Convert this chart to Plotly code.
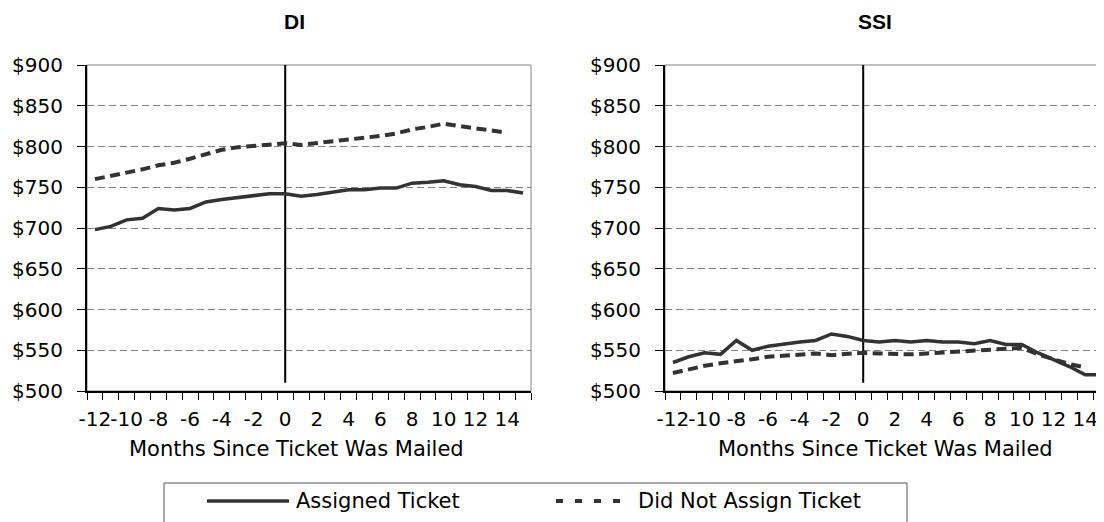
import plotly.graph_objects as go

# ---------------- data ----------------
months = list(range(-12, 16))          # -12 .. 15
months_not = list(range(-12, 15))      # -12 .. 14

di_assigned = [698, 702, 710, 712, 724, 722, 724, 732, 735, 737,
               740, 742, 742, 739, 741, 744, 747, 747, 749, 749,
               755, 756, 758, 753, 751, 746, 746, 743]
di_not_assigned = [760, 764, 767, 772, 777, 780, 785, 791, 796, 799,
                   801, 803, 804, 802, 804, 807, 809, 810, 813, 816,
                   821, 824, 828, 825, 822, 820, 817]
ssi_assigned = [535, 542, 547, 545, 562, 550, 555, 558, 560, 562,
                570, 567, 562, 560, 562, 560, 562, 560, 560, 558,
                562, 557, 557, 547, 539, 530, 520, 520]
ssi_not_assigned = [522, 527, 531, 534, 536, 539, 542, 543, 545, 546,
                    544, 545, 547, 546, 545, 545, 546, 547, 548, 549,
                    550, 552, 553, 545, 539, 533, 529]

mailed_line_x = [0, 0]
mailed_line_y = [510, 900]

x_tick_vals = list(range(-12, 15, 2))
x_tick_text = [str(v) for v in x_tick_vals]
y_tick_vals = list(range(500, 901, 50))
y_tick_text = ["$%d" % v for v in y_tick_vals]

panel_titles = ["DI", "SSI"]
x_title = "Months Since Ticket Was Mailed"
series_names = ["Assigned Ticket", "Did Not Assign Ticket"]

# ---------------- layout helpers ----------------
# The page body has an 8px margin, so the figure is sized to fill the rest of the window.
OFF = 8
W, H = 1104 - OFF, 522 - OFF
def px(v):
    return (v - OFF) / W
def py(v):
    return 1 - (v - OFF) / H

LINE_COLOR = "#333333"
TICK_FONT = dict(family="DejaVu Sans", size=20, color="black")
TEXT_FONT = dict(family="DejaVu Sans", size=21, color="black")
TITLE_FONT = dict(family="Liberation Sans, Arial", size=21, color="black")

fig = go.Figure()

panels = [
    ("x", "y", di_assigned, di_not_assigned),
    ("x2", "y2", ssi_assigned, ssi_not_assigned),
]
for xa, ya, assigned, not_assigned in panels:
    fig.add_trace(go.Scatter(x=mailed_line_x, y=mailed_line_y, xaxis=xa, yaxis=ya,
                             mode="lines", line=dict(color="black", width=2),
                             showlegend=False, hoverinfo="skip"))
    fig.add_trace(go.Scatter(x=months_not, y=not_assigned, xaxis=xa, yaxis=ya,
                             mode="lines", name=series_names[1],
                             line=dict(color=LINE_COLOR, width=4, dash="10px,5.5px"),
                             showlegend=False))
    fig.add_trace(go.Scatter(x=months, y=assigned, xaxis=xa, yaxis=ya,
                             mode="lines", name=series_names[0],
                             line=dict(color=LINE_COLOR, width=3.5),
                             showlegend=False))

ydom = [py(391), py(65)]
common_x = dict(
    tickmode="array", tickvals=x_tick_vals, ticktext=x_tick_text, tickangle=0,
    ticks="", showgrid=False, zeroline=False, automargin=False,
    showline=True, linecolor="black", linewidth=2,
    tickfont=TICK_FONT, ticklabelstandoff=9,
    minor=dict(ticks="outside", ticklen=7, tickwidth=1, tickcolor="black",
               tick0=-12.5, dtick=1, showgrid=False),
)
common_y = dict(
    range=[500, 900], tickmode="array", tickvals=y_tick_vals, ticktext=y_tick_text,
    ticks="outside", ticklen=8, tickwidth=1, tickcolor="black", automargin=False,
    showgrid=True, gridcolor="#808080", gridwidth=1, griddash="7px,4px",
    zeroline=False, showline=True, linecolor="black", linewidth=2,
    tickfont=TICK_FONT, ticklabelstandoff=10,
)

cat_px = 444 / 28.0   # pixel width of one month category
fig.update_layout(
    width=W, height=H,
    margin=dict(l=0, r=0, t=0, b=0, autoexpand=False),
    paper_bgcolor="white", plot_bgcolor="white",
    showlegend=False,
    xaxis=dict(domain=[px(87), px(531)], range=[-12.5, 15.5], anchor="y", **common_x),
    yaxis=dict(domain=ydom, anchor="x", **common_y),
    xaxis2=dict(domain=[px(665), 1.0], range=[-12.5, -12.5 + (1104 - 665) / cat_px],
                anchor="y2", **common_x),
    yaxis2=dict(domain=ydom, anchor="x2", **common_y),
)

shapes = []
# thin gray plot-area borders (top / right)
for xr, yr in [("x domain", "y domain"), ("x2 domain", "y2 domain")]:
    shapes.append(dict(type="rect", xref=xr, yref=yr, x0=0, x1=1, y0=0, y1=1,
                       line=dict(color="#808080", width=1), layer="below"))

# legend box and samples
shapes.append(dict(type="rect", xref="paper", yref="paper",
                   x0=px(164), x1=px(907), y0=py(540), y1=py(483),
                   line=dict(color="#555555", width=1)))
shapes.append(dict(type="line", xref="paper", yref="paper",
                   x0=px(207), x1=px(289), y0=py(501), y1=py(501),
                   line=dict(color=LINE_COLOR, width=3.5)))
shapes.append(dict(type="line", xref="paper", yref="paper",
                   x0=px(556), x1=px(632), y0=py(501), y1=py(501),
                   line=dict(color=LINE_COLOR, width=4, dash="7px,12px")))
fig.update_layout(shapes=shapes)

annotations = [
    dict(text="<b>%s</b>" % panel_titles[0], x=px(294), y=py(9), xref="paper", yref="paper",
         showarrow=False, xanchor="center", yanchor="top", borderpad=0,
         font=TITLE_FONT),
    dict(text="<b>%s</b>" % panel_titles[1], x=px(875), y=py(9), xref="paper", yref="paper",
         showarrow=False, xanchor="center", yanchor="top", borderpad=0,
         font=TITLE_FONT),
    dict(text=x_title, x=px(296), y=py(449), xref="paper", yref="paper",
         showarrow=False, xanchor="center", yanchor="middle", font=TEXT_FONT),
    dict(text=x_title, x=px(885), y=py(449), xref="paper", yref="paper",
         showarrow=False, xanchor="center", yanchor="middle", font=TEXT_FONT),
    dict(text=series_names[0], x=px(294), y=py(501), xref="paper", yref="paper",
         showarrow=False, xanchor="left", yanchor="middle", font=TEXT_FONT),
    dict(text=series_names[1], x=px(636), y=py(501), xref="paper", yref="paper",
         showarrow=False, xanchor="left", yanchor="middle", font=TEXT_FONT),
]
fig.update_layout(annotations=annotations)

fig.write_html("out.html")
